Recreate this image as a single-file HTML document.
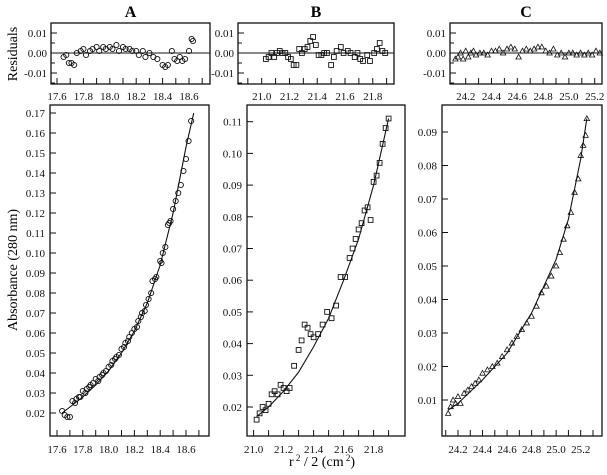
<!DOCTYPE html>
<html><head><meta charset="utf-8"><style>
body{margin:0;background:#fff;}
svg{display:block;font-family:"Liberation Serif",serif;}
text{font-family:"Liberation Serif",serif;}
.t{font-size:11px;fill:#111;}
</style></head><body>
<svg id="chart" width="607" height="475"></svg>
<script>
// ---------- DATA ----------
const fitAx=[17.64,17.7,17.8,17.9,18.0,18.1,18.2,18.3,18.4,18.5,18.6,18.66];
const fitAy=[0.020,0.023,0.028,0.034,0.041,0.050,0.061,0.075,0.094,0.120,0.153,0.170];
const datAx=[17.64,17.66,17.68,17.70,17.72,17.74,17.75,17.77,17.78,17.80,17.82,17.83,17.85,17.86,17.88,17.9,17.92,17.93,17.95,17.96,17.98,18.0,18.02,18.03,18.05,18.06,18.08,18.1,18.12,18.13,18.15,18.16,18.18,18.2,18.22,18.23,18.25,18.26,18.28,18.29,18.31,18.33,18.34,18.36,18.37,18.40,18.41,18.42,18.44,18.46,18.47,18.48,18.50,18.52,18.54,18.56,18.58,18.60,18.62,18.64];
const datAy=[0.021,0.019,0.018,0.018,0.026,0.025,0.027,0.028,0.028,0.031,0.030,0.032,0.033,0.034,0.035,0.037,0.036,0.038,0.039,0.040,0.041,0.043,0.044,0.046,0.047,0.048,0.049,0.052,0.053,0.055,0.056,0.058,0.060,0.062,0.063,0.066,0.068,0.070,0.071,0.074,0.077,0.080,0.086,0.087,0.088,0.096,0.095,0.100,0.103,0.114,0.115,0.116,0.122,0.126,0.130,0.134,0.141,0.147,0.156,0.166];
const resAx=[17.65,17.67,17.69,17.71,17.73,17.75,17.78,17.8,17.82,17.85,17.87,17.9,17.92,17.95,17.97,18.0,18.02,18.05,18.07,18.1,18.12,18.15,18.17,18.2,18.22,18.25,18.27,18.3,18.33,18.36,18.4,18.42,18.44,18.47,18.49,18.51,18.53,18.55,18.57,18.6,18.62,18.63];
const resAy=[-0.002,-0.001,-0.005,-0.005,-0.006,0.0,0.001,0.002,-0.001,0.001,0.002,0.003,0.001,0.003,0.002,0.003,0.002,0.004,0.001,0.003,0.002,0.002,0.001,0.001,-0.001,0.001,-0.002,0.0,-0.002,-0.003,-0.006,-0.007,-0.006,0.001,-0.003,-0.004,-0.002,-0.004,-0.003,0.001,0.007,0.006];

const fitBx=[21.02,21.1,21.2,21.3,21.4,21.5,21.6,21.7,21.8,21.9];
const fitBy=[0.017,0.020,0.025,0.031,0.039,0.048,0.060,0.073,0.090,0.111];
const datBx=[21.02,21.04,21.06,21.08,21.10,21.12,21.14,21.16,21.18,21.20,21.22,21.24,21.27,21.30,21.32,21.34,21.36,21.38,21.40,21.43,21.46,21.49,21.52,21.55,21.58,21.61,21.64,21.66,21.68,21.70,21.72,21.74,21.76,21.78,21.80,21.82,21.84,21.86,21.88,21.90];
const datBy=[0.016,0.018,0.020,0.019,0.021,0.024,0.025,0.024,0.027,0.026,0.025,0.026,0.033,0.038,0.041,0.046,0.045,0.043,0.042,0.043,0.046,0.050,0.048,0.052,0.061,0.061,0.067,0.070,0.073,0.076,0.078,0.082,0.083,0.079,0.091,0.093,0.097,0.103,0.108,0.111];
const resBx=[21.03,21.05,21.07,21.09,21.11,21.13,21.15,21.17,21.19,21.21,21.23,21.25,21.27,21.29,21.31,21.33,21.35,21.37,21.39,21.41,21.43,21.45,21.47,21.5,21.52,21.54,21.57,21.59,21.62,21.64,21.67,21.69,21.71,21.73,21.76,21.78,21.81,21.83,21.85,21.87,21.89];
const resBy=[-0.003,-0.002,0.0,-0.002,0.0,0.001,0.0,0.0,-0.002,-0.003,-0.006,-0.006,0.002,0.0,0.002,0.003,0.006,0.008,0.004,-0.001,-0.001,0.0,0.0,-0.006,-0.002,0.001,0.003,0.0,0.001,0.0,-0.002,0.0,-0.003,-0.004,-0.001,-0.004,0.0,0.002,0.005,0.001,0.0];

const fitCx=[24.12,24.2,24.4,24.6,24.8,25.0,25.1,25.2,25.25];
const fitCy=[0.007,0.009,0.016,0.024,0.036,0.052,0.064,0.082,0.094];
const datCx=[24.12,24.14,24.16,24.18,24.2,24.22,24.25,24.28,24.31,24.34,24.37,24.4,24.44,24.48,24.52,24.56,24.6,24.64,24.68,24.72,24.76,24.8,24.84,24.88,24.92,24.96,25.0,25.03,25.06,25.09,25.12,25.15,25.18,25.2,25.22,25.24,25.25];
const datCy=[0.006,0.008,0.010,0.009,0.011,0.009,0.012,0.013,0.014,0.015,0.016,0.018,0.019,0.020,0.021,0.023,0.025,0.027,0.029,0.031,0.033,0.035,0.038,0.042,0.044,0.047,0.050,0.054,0.058,0.062,0.066,0.072,0.076,0.083,0.086,0.089,0.094];
const resCx=[24.12,24.14,24.16,24.18,24.2,24.22,24.24,24.26,24.28,24.31,24.34,24.37,24.4,24.43,24.46,24.49,24.52,24.55,24.58,24.61,24.64,24.67,24.7,24.73,24.76,24.79,24.82,24.85,24.88,24.91,24.94,24.97,25.0,25.03,25.06,25.09,25.12,25.15,25.18,25.21,25.24];
const resCy=[-0.003,-0.002,0.0,-0.003,0.001,-0.002,0.0,0.001,-0.001,0.0,0.0,-0.001,0.001,0.001,0.002,0.0,0.002,0.003,0.002,-0.002,0.001,0.002,0.001,0.002,0.003,0.003,0.001,0.0,0.002,-0.001,0.0,-0.002,0.0,0.0,-0.001,0.0,-0.001,0.0,-0.001,0.001,0.0];

const ticksA=["17.6","17.8","18.0","18.2","18.4","18.6"];
const ticksB=["21.0","21.2","21.4","21.6","21.8"];
const ticksC=["24.2","24.4","24.6","24.8","25.0","25.2"];
const yTicksA=[0.02,0.03,0.04,0.05,0.06,0.07,0.08,0.09,0.10,0.11,0.12,0.13,0.14,0.15,0.16,0.17];
const yTicksB=[0.02,0.03,0.04,0.05,0.06,0.07,0.08,0.09,0.10,0.11];
const yTicksC=[0.01,0.02,0.03,0.04,0.05,0.06,0.07,0.08,0.09];
const resTicks=[0.01,0.00,-0.01];

const svg=document.getElementById('chart');
const NS='http://www.w3.org/2000/svg';
function mk(tag,at,parent){const e=document.createElementNS(NS,tag);for(const k in at)e.setAttribute(k,at[k]);(parent||svg).appendChild(e);return e;}
function txt(x,y,s,cls,anchor,name,parent){const e=mk('text',{x:x,y:y,'class':cls,'text-anchor':anchor||'middle','font-family':'Liberation Serif, serif'},parent);e.textContent=s;


return e;}

function marker(g,shape,x,y){
  let e;
  if(shape==='o'){e=mk('circle',{cx:x,cy:y,r:2.6,fill:'none',stroke:'#111','stroke-width':0.9},g);}
  else if(shape==='s'){e=mk('rect',{x:x-2.4,y:y-2.4,width:4.8,height:4.8,fill:'none',stroke:'#111','stroke-width':0.9},g);}
  else {e=mk('polygon',{points:(x)+','+(y-2.8)+' '+(x-2.7)+','+(y+2)+' '+(x+2.7)+','+(y+2),fill:'none',stroke:'#111','stroke-width':0.8},g);}
  
  
}

function panel(id,cfg){
  const g=mk('g',{});
  
  
  const r=cfg.res, b=cfg.main;
  const rx=v=>r.x0+(v-r.v0)*r.kx, ry=v=>r.y0-v*r.ky;
  const bx=v=>b.x0+(v-b.v0)*b.kx, by=v=>b.y0-(v-b.w0)*b.ky;
  const rb=mk('rect',{x:r.L,y:r.T,width:r.R-r.L,height:r.B-r.T,fill:'none',stroke:'#111','stroke-width':1.3},g);
  
  
  const zl=mk('line',{x1:r.L,x2:r.R,y1:ry(0),y2:ry(0),stroke:'#111','stroke-width':1.1},g);
  
  
  for(let v=-0.015;v<=0.0151;v+=0.005){const y=ry(v);if(y<r.T+1||y>r.B-1)continue;mk('line',{x1:r.L,x2:r.L+(Math.abs(Math.round(v*1000))%10===0?6:4),y1:y,y2:y,stroke:'#111'},g);}
  resTicks.forEach(v=>txt(r.L-4,ry(v)+4,v.toFixed(2).replace('-0.00','0.00'),'t','end','residual-y-tick',g));
  for(let i=0;i<=30;i++){const v=cfg.tickStart+i*0.1;const x=rx(v);if(x<r.L+3||x>r.R-2)continue;mk('line',{x1:x,x2:x,y1:r.B,y2:r.B-6,stroke:'#111'},g);}
  cfg.ticks.forEach(s=>txt(rx(parseFloat(s)),r.B+16,s,'t','middle','residual-x-tick',g));
  cfg.resX.forEach((v,i)=>marker(g,cfg.shape,rx(v),ry(cfg.resY[i])));
  const mb=mk('rect',{x:b.L,y:b.T,width:b.R-b.L,height:b.B-b.T,fill:'none',stroke:'#111','stroke-width':1.3},g);
  
  
  cfg.yTicks.forEach(v=>{const y=by(v);mk('line',{x1:b.L,x2:b.L+6,y1:y,y2:y,stroke:'#111'},g);txt(b.L-5,y+4,v.toFixed(2),'t','end','y-tick',g);});
  for(let i=0;i<=30;i++){const v=cfg.tickStart+i*0.1;const x=bx(v);if(x<b.L+3||x>b.R-2)continue;mk('line',{x1:x,x2:x,y1:b.B,y2:b.B-6,stroke:'#111'},g);}
  cfg.ticks.forEach(s=>txt(bx(parseFloat(s)),b.B+17,s,'t','middle','x-tick',g));
  const fit=mk('polyline',{points:cfg.fitX.map((v,i)=>bx(v)+','+by(cfg.fitY[i])).join(' '),fill:'none',stroke:'#111','stroke-width':1.1},g);
  
  
  cfg.datX.forEach((v,i)=>marker(g,cfg.shape,bx(v),by(cfg.datY[i])));
  const lbl=mk('text',{x:(r.L+r.R)/2,y:17,'text-anchor':'middle','font-family':'Liberation Sans, sans-serif','font-weight':'bold','font-size':'16'},g);
  lbl.textContent=id;
  
  
}

panel('A',{shape:'o',tickStart:17.5,ticks:ticksA,yTicks:yTicksA,
  res:{L:51,R:210,T:23,B:84,x0:57,v0:17.6,kx:132,y0:53,ky:2000},
  main:{L:50,R:209,T:105,B:436,x0:57,v0:17.6,kx:129,y0:413,w0:0.02,ky:2000},
  resX:resAx,resY:resAy,fitX:fitAx,fitY:fitAy,datX:datAx,datY:datAy});
panel('B',{shape:'s',tickStart:20.9,ticks:ticksB,yTicks:yTicksB,
  res:{L:238,R:394,T:23,B:84,x0:261.7,v0:21.0,kx:138.8,y0:53,ky:2000},
  main:{L:247,R:405,T:105,B:436,x0:253.6,v0:21.0,kx:150,y0:407,w0:0.02,ky:3170},
  resX:resBx,resY:resBy,fitX:fitBx,fitY:fitBy,datX:datBx,datY:datBy});
panel('C',{shape:'t',tickStart:24.0,ticks:ticksC,yTicks:yTicksC,
  res:{L:450,R:602,T:23,B:84,x0:465.7,v0:24.2,kx:129,y0:53,ky:2000},
  main:{L:442,R:602,T:105,B:436,x0:458,v0:24.2,kx:122.7,y0:400,w0:0.01,ky:3350},
  resX:resCx,resY:resCy,fitX:fitCx,fitY:fitCy,datX:datCx,datY:datCy});

const rt=mk('text',{x:0,y:0,transform:'translate(17,54) rotate(-90)','text-anchor':'middle','font-size':'14','font-family':'Liberation Serif, serif'});
rt.textContent='Residuals';


const at=mk('text',{x:0,y:0,transform:'translate(17,270) rotate(-90)','text-anchor':'middle','font-size':'14','font-family':'Liberation Serif, serif'});
at.textContent='Absorbance (280 nm)';


const xt=mk('text',{x:322,y:466,'text-anchor':'middle','font-size':'14','font-family':'Liberation Serif, serif'});
xt.innerHTML='r<tspan dy="-5" font-size="9"> 2</tspan><tspan dy="5"> / 2 (cm</tspan><tspan dy="-5" font-size="9"> 2</tspan><tspan dy="5">)</tspan>';


</script>
</body></html>
